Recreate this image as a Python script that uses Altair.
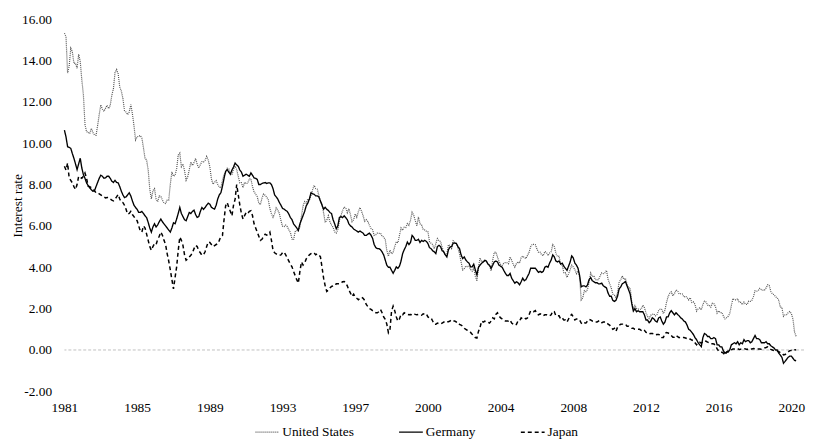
import altair as alt
import pandas as pd

# Monthly 10-year government bond yields, Sep 1981 - Apr 2020
series_names = ["United States", "Germany", "Japan"]

us = [
    15.32, 15.15, 13.39, 13.72,
    14.59, 14.43, 13.86, 13.87, 13.62, 14.30, 13.95, 13.06, 12.34, 10.91, 10.55, 10.54,
    10.46, 10.72, 10.51, 10.40, 10.38, 10.85, 11.38, 11.85, 11.65, 11.54, 11.69, 11.83,
    11.67, 11.84, 12.32, 12.63, 13.41, 13.56, 13.36, 12.72, 12.52, 12.16, 11.57, 11.50,
    11.38, 11.51, 11.86, 11.43, 10.85, 10.16, 10.31, 10.33, 10.37, 10.24, 9.78, 9.26,
    9.19, 8.70, 7.78, 7.30, 7.71, 7.80, 7.30, 7.17, 7.45, 7.43, 7.25, 7.11,
    7.08, 7.25, 7.25, 8.02, 8.61, 8.40, 8.45, 8.76, 9.42, 9.52, 8.86, 8.99,
    8.67, 8.21, 8.37, 8.72, 9.09, 8.92, 9.06, 9.26, 8.98, 8.80, 8.96, 9.11,
    9.09, 9.17, 9.36, 9.18, 8.86, 8.28, 8.02, 8.11, 8.19, 8.01, 7.87, 7.84,
    8.21, 8.47, 8.59, 8.79, 8.76, 8.48, 8.47, 8.75, 8.89, 8.72, 8.39, 8.08,
    8.09, 7.85, 8.11, 8.04, 8.07, 8.28, 8.27, 7.90, 7.65, 7.53, 7.42, 7.09,
    7.03, 7.34, 7.54, 7.48, 7.39, 7.26, 6.84, 6.59, 6.42, 6.59, 6.87, 6.77,
    6.60, 6.26, 5.98, 5.97, 6.04, 5.96, 5.81, 5.68, 5.36, 5.33, 5.72, 5.77,
    5.75, 5.97, 6.48, 6.97, 7.18, 7.10, 7.30, 7.24, 7.46, 7.74, 7.96, 7.81,
    7.78, 7.47, 7.20, 7.06, 6.63, 6.17, 6.28, 6.49, 6.20, 6.04, 5.93, 5.71,
    5.65, 5.81, 6.27, 6.51, 6.74, 6.91, 6.87, 6.64, 6.83, 6.53, 6.20, 6.30,
    6.58, 6.42, 6.69, 6.89, 6.71, 6.49, 6.22, 6.30, 6.21, 6.03, 5.88, 5.81,
    5.54, 5.57, 5.65, 5.64, 5.65, 5.50, 5.46, 5.34, 4.81, 4.53, 4.83, 4.65,
    4.72, 5.00, 5.23, 5.18, 5.54, 5.90, 5.79, 5.94, 5.92, 6.11, 6.03, 6.28,
    6.66, 6.52, 6.26, 5.99, 6.44, 6.10, 6.05, 5.83, 5.80, 5.74, 5.72, 5.24,
    5.16, 5.10, 4.89, 5.14, 5.39, 5.28, 5.24, 4.97, 4.73, 4.57, 4.65, 5.09,
    5.04, 4.91, 5.28, 5.21, 5.16, 4.93, 4.65, 4.26, 3.87, 3.94, 4.05, 4.03,
    4.05, 3.90, 3.81, 3.96, 3.57, 3.33, 3.98, 4.45, 4.27, 4.29, 4.30, 4.27,
    4.15, 4.08, 3.83, 4.35, 4.72, 4.73, 4.50, 4.28, 4.13, 4.10, 4.19, 4.23,
    4.22, 4.17, 4.50, 4.34, 4.14, 4.00, 4.18, 4.26, 4.20, 4.46, 4.54, 4.47,
    4.42, 4.57, 4.72, 4.99, 5.11, 5.11, 5.09, 4.88, 4.72, 4.73, 4.60, 4.56,
    4.76, 4.72, 4.56, 4.69, 4.75, 5.10, 5.00, 4.67, 4.52, 4.53, 4.15, 4.10,
    3.74, 3.74, 3.51, 3.68, 3.88, 4.10, 4.01, 3.89, 3.69, 3.81, 3.53, 2.42,
    2.52, 2.87, 2.82, 2.93, 3.29, 3.72, 3.56, 3.59, 3.40, 3.39, 3.40, 3.59,
    3.73, 3.69, 3.73, 3.85, 3.42, 3.20, 3.01, 2.70, 2.65, 2.54, 2.76, 3.29,
    3.39, 3.58, 3.41, 3.46, 3.17, 3.00, 3.00, 2.30, 1.98, 2.15, 2.01, 1.98,
    1.97, 1.97, 2.17, 2.05, 1.80, 1.62, 1.53, 1.68, 1.72, 1.75, 1.65, 1.72,
    1.91, 1.98, 1.96, 1.76, 1.93, 2.30, 2.58, 2.74, 2.81, 2.62, 2.72, 2.90,
    2.86, 2.71, 2.72, 2.71, 2.56, 2.60, 2.54, 2.42, 2.53, 2.30, 2.33, 2.21,
    1.88, 1.98, 2.04, 1.94, 2.20, 2.36, 2.32, 2.17, 2.17, 2.07, 2.26, 2.24,
    2.09, 1.78, 1.89, 1.81, 1.81, 1.64, 1.50, 1.56, 1.63, 1.76, 2.14, 2.49,
    2.43, 2.42, 2.48, 2.30, 2.30, 2.19, 2.32, 2.21, 2.20, 2.36, 2.35, 2.40,
    2.58, 2.86, 2.84, 2.87, 2.98, 2.91, 2.89, 2.89, 3.00, 3.15, 3.12, 2.83,
    2.71, 2.68, 2.57, 2.53, 2.40, 2.07, 2.06, 1.63, 1.70, 1.71, 1.81, 1.86,
    1.76, 1.50, 0.87, 0.66,
]

germany = [
    10.63, 10.3, 9.83, 9.8,
    9.75, 9.5, 9.27, 9.0, 8.72, 9.0, 9.27, 8.8, 8.48, 8.3, 8.08, 7.95,
    7.84, 7.75, 7.68, 7.7, 7.9, 8.1, 8.3, 8.45, 8.4, 8.3, 8.32, 8.4,
    8.4, 8.3, 8.16, 8.1, 8.2, 8.1, 8.08, 7.9, 7.68, 7.5, 7.37, 7.4,
    7.5, 7.6, 7.45, 7.21, 7.0, 6.89, 6.8, 6.65, 6.65, 6.7, 6.6, 6.49,
    6.4, 6.17, 5.9, 5.7, 5.95, 6.1, 5.95, 6.05, 6.2, 6.33, 6.2, 6.1,
    6.0, 5.9, 5.8, 5.7, 5.9, 6.15, 6.1, 6.33, 6.6, 6.89, 6.6, 6.45,
    6.3, 6.25, 6.45, 6.65, 6.6, 6.7, 6.76, 6.55, 6.41, 6.45, 6.7, 6.89,
    6.8, 6.89, 7.0, 7.1, 7.05, 6.9, 6.85, 6.81, 7.0, 7.3, 7.5, 7.6,
    7.92, 8.3, 8.64, 8.72, 8.6, 8.5, 8.7, 8.85, 9.04, 8.95, 8.88, 8.7,
    8.6, 8.4, 8.45, 8.5, 8.45, 8.4, 8.56, 8.45, 8.32, 8.3, 8.25, 8.0,
    8.0, 8.05, 8.08, 8.1, 8.05, 8.08, 8.08, 8.0, 7.8, 7.5, 7.4, 7.3,
    7.13, 7.0, 6.85, 6.81, 6.75, 6.7, 6.57, 6.4, 6.3, 6.1, 6.0, 5.9,
    5.78, 6.1, 6.3, 6.5, 6.7, 6.97, 7.1, 7.3, 7.6, 7.55, 7.53, 7.45,
    7.45, 7.4, 7.2, 7.0, 6.81, 6.9, 6.8, 6.75, 6.65, 6.6, 6.3, 6.1,
    5.86, 6.0, 6.41, 6.45, 6.4, 6.49, 6.4, 6.3, 6.1, 6.0, 5.95, 5.85,
    5.8, 5.75, 5.7, 5.75, 5.7, 5.65, 5.54, 5.54, 5.6, 5.65, 5.55, 5.4,
    5.1, 4.95, 4.9, 4.9, 4.85, 4.74, 4.6, 4.35, 4.1, 4.0, 4.0, 3.85,
    3.71, 3.85, 4.02, 3.95, 4.05, 4.3, 4.66, 4.85, 5.0, 5.22, 5.1, 5.2,
    5.54, 5.45, 5.3, 5.3, 5.35, 5.2, 5.3, 5.25, 5.3, 5.25, 5.15, 4.95,
    4.9, 4.8, 4.75, 4.66, 5.0, 5.06, 5.0, 4.8, 4.75, 4.6, 4.5, 4.85,
    4.98, 5.0, 5.17, 5.17, 5.15, 5.0, 4.9, 4.6, 4.42, 4.5, 4.35, 4.26,
    4.2, 4.02, 4.02, 4.15, 3.87, 3.63, 4.0, 4.1, 4.2, 4.25, 4.34, 4.3,
    4.15, 4.1, 3.95, 4.1, 4.26, 4.3, 4.26, 4.1, 4.05, 4.0, 3.85, 3.71,
    3.6, 3.6, 3.7, 3.47, 3.35, 3.23, 3.3, 3.25, 3.15, 3.3, 3.47, 3.35,
    3.4, 3.55, 3.7, 3.95, 3.95, 3.95, 3.95, 3.85, 3.75, 3.8, 3.75, 3.8,
    4.0, 4.05, 4.0, 4.2, 4.35, 4.6, 4.5, 4.3, 4.26, 4.3, 4.15, 4.2,
    4.05, 3.95, 3.85, 4.05, 4.25, 4.55, 4.45, 4.2, 4.1, 3.95, 3.6, 3.05,
    3.1, 3.1, 3.05, 3.15, 3.4, 3.5, 3.35, 3.3, 3.25, 3.25, 3.2, 3.2,
    3.23, 3.1, 3.05, 3.0, 2.75, 2.6, 2.6, 2.4, 2.35, 2.4, 2.6, 2.95,
    3.05, 3.2, 3.25, 3.31, 3.1, 2.91, 2.7, 2.25, 1.88, 2.0, 1.85, 1.9,
    1.85, 1.85, 1.85, 1.7, 1.45, 1.45, 1.32, 1.4, 1.56, 1.5, 1.4, 1.35,
    1.55, 1.6, 1.4, 1.25, 1.35, 1.6, 1.6, 1.8, 1.9, 1.8, 1.7, 1.8,
    1.72, 1.65, 1.55, 1.5, 1.4, 1.35, 1.2, 1.0, 0.95, 0.85, 0.75, 0.6,
    0.5, 0.35, 0.25, 0.16, 0.6, 0.8, 0.75, 0.65, 0.65, 0.55, 0.55, 0.6,
    0.55, 0.25, 0.25, 0.15, 0.15, -0.05, -0.15, -0.1, -0.1, 0.0, 0.25, 0.3,
    0.35, 0.3, 0.4, 0.25, 0.35, 0.3, 0.5, 0.4, 0.45, 0.45, 0.35, 0.4,
    0.55, 0.7, 0.55, 0.55, 0.5, 0.35, 0.35, 0.35, 0.4, 0.3, 0.3, 0.2,
    0.15, 0.1, 0.0, 0.0, -0.15, -0.25, -0.35, -0.64, -0.55, -0.45, -0.35, -0.3,
    -0.3, -0.4, -0.5, -0.52,
]

japan = [
    8.88, 8.7, 9.04, 8.32,
    8.2, 8.08, 7.9, 7.76, 8.0, 8.4, 8.35, 8.3, 8.4, 8.56, 8.3, 7.92,
    7.9, 7.85, 7.8, 7.7, 7.6, 7.6, 7.55, 7.5, 7.45, 7.4, 7.35, 7.37,
    7.37, 7.3, 7.25, 7.21, 7.3, 7.4, 7.52, 7.3, 7.15, 7.13, 7.0, 6.8,
    6.57, 6.6, 6.7, 6.55, 6.45, 6.33, 6.25, 6.0, 5.75, 5.7, 6.0, 5.9,
    5.6, 5.3, 5.0, 4.82, 5.0, 5.14, 5.1, 5.35, 5.5, 5.7, 5.55, 5.3,
    5.1, 4.66, 4.3, 3.87, 3.4, 2.95, 3.5, 4.02, 4.8, 5.46, 5.3, 5.06,
    4.6, 4.34, 4.4, 4.5, 4.58, 4.7, 4.9, 5.06, 5.0, 4.8, 4.7, 4.58,
    4.6, 4.75, 5.0, 5.22, 5.2, 5.1, 5.0, 5.05, 5.1, 5.14, 5.3, 5.5,
    5.54, 6.3, 6.97, 7.13, 6.9, 6.7, 6.49, 7.0, 7.29, 8.0, 7.5, 7.0,
    6.6, 6.33, 6.5, 6.65, 6.6, 6.7, 6.73, 6.5, 6.1, 5.9, 5.7, 5.5,
    5.3, 5.35, 5.5, 5.6, 5.55, 5.6, 5.7, 5.3, 4.82, 4.7, 4.65, 4.6,
    4.58, 4.6, 4.7, 4.74, 4.6, 4.45, 4.3, 4.15, 4.02, 3.8, 3.6, 3.4,
    3.23, 3.8, 4.26, 4.1, 4.2, 4.4, 4.5, 4.6, 4.66, 4.7, 4.7, 4.6,
    4.65, 4.6, 4.5, 4.0, 3.47, 3.1, 2.83, 2.9, 3.0, 3.07, 3.1, 3.1,
    3.2, 3.2, 3.2, 3.23, 3.3, 3.31, 3.25, 3.1, 2.9, 2.75, 2.59, 2.7,
    2.55, 2.5, 2.43, 2.5, 2.55, 2.5, 2.4, 2.2, 2.1, 2.0, 1.96, 1.9,
    1.85, 1.8, 1.8, 1.85, 1.96, 1.8, 1.6, 1.48, 1.25, 0.84, 1.0, 1.88,
    2.12, 1.9, 1.6, 1.4, 1.5, 1.72, 1.7, 1.8, 1.75, 1.72, 1.7, 1.72,
    1.7, 1.75, 1.72, 1.7, 1.72, 1.7, 1.68, 1.75, 1.72, 1.75, 1.6, 1.55,
    1.55, 1.4, 1.25, 1.24, 1.3, 1.27, 1.25, 1.3, 1.35, 1.4, 1.37, 1.37,
    1.4, 1.45, 1.4, 1.4, 1.35, 1.35, 1.24, 1.2, 1.15, 1.05, 1.0, 0.95,
    0.88, 0.85, 0.76, 0.7, 0.6, 0.58, 0.9, 1.1, 1.4, 1.35, 1.4, 1.35,
    1.35, 1.3, 1.4, 1.55, 1.5, 1.72, 1.8, 1.65, 1.55, 1.5, 1.45, 1.4,
    1.4, 1.4, 1.45, 1.3, 1.25, 1.2, 1.24, 1.4, 1.4, 1.55, 1.5, 1.55,
    1.5, 1.55, 1.7, 1.9, 1.88, 1.85, 1.9, 1.75, 1.7, 1.75, 1.72, 1.65,
    1.7, 1.7, 1.65, 1.65, 1.7, 1.88, 1.85, 1.65, 1.65, 1.65, 1.5, 1.55,
    1.45, 1.45, 1.35, 1.5, 1.65, 1.72, 1.6, 1.45, 1.5, 1.5, 1.45, 1.3,
    1.24, 1.3, 1.3, 1.4, 1.48, 1.45, 1.4, 1.4, 1.35, 1.35, 1.4, 1.3,
    1.32, 1.35, 1.35, 1.35, 1.25, 1.2, 1.1, 1.0, 1.05, 0.9, 1.1, 1.2,
    1.24, 1.25, 1.25, 1.25, 1.15, 1.15, 1.1, 1.05, 1.05, 1.0, 1.0, 1.0,
    1.0, 0.95, 1.0, 0.95, 0.85, 0.84, 0.78, 0.8, 0.8, 0.78, 0.73, 0.75,
    0.75, 0.72, 0.6, 0.6, 0.8, 0.84, 0.82, 0.78, 0.7, 0.62, 0.62, 0.7,
    0.65, 0.6, 0.62, 0.6, 0.6, 0.58, 0.55, 0.5, 0.53, 0.48, 0.45, 0.35,
    0.25, 0.37, 0.37, 0.33, 0.4, 0.45, 0.42, 0.38, 0.35, 0.3, 0.3, 0.29,
    0.22, 0.05, -0.05, -0.08, -0.11, -0.15, -0.25, -0.1, -0.05, -0.05, 0.0, 0.05,
    0.05, 0.08, 0.07, 0.02, 0.04, 0.05, 0.07, 0.05, 0.03, 0.06, 0.04, 0.05,
    0.07, 0.06, 0.04, 0.05, 0.05, 0.04, 0.06, 0.1, 0.12, 0.15, 0.1, 0.03,
    0.0, -0.03, -0.06, -0.05, -0.08, -0.13, -0.15, -0.24, -0.22, -0.17, -0.09, -0.03,
    -0.02, -0.05, 0.0, 0.01,
]

# x-axis: tick every 46 months starting at Sep 1981
tick_labels = ["1981", "1985", "1989", "1993", "1997", "2000",
               "2004", "2008", "2012", "2016", "2020"]
y_tick_labels = ["-2.00", "0.00", "2.00", "4.00", "6.00", "8.00",
                 "10.00", "12.00", "14.00", "16.00"]

assert len(us) == len(germany) == len(japan), (len(us), len(germany), len(japan))

rows = []
for name, vals in zip(series_names, [us, germany, japan]):
    for i, v in enumerate(vals):
        rows.append({"t": i, "value": v, "country": name})
df = pd.DataFrame(rows)

FONT = "Liberation Serif"
FS = 13.5
tick_step = 46
x_ticks = [i * tick_step for i in range(len(tick_labels))]
x_label_expr = "[" + ",".join("'%s'" % s for s in tick_labels) + "][round(datum.value/%d)]" % tick_step
y_label_expr = "[" + ",".join("'%s'" % s for s in y_tick_labels) + "][round((datum.value+2)/2)]"

legend = alt.Legend(
    title=None, orient="none", legendX=192, legendY=404, direction="horizontal",
    symbolType="stroke", symbolSize=576, labelFont=FONT, labelFontSize=FS,
    labelColor="black", columnPadding=42, labelOffset=2, padding=0,
)

x = alt.X("t:Q", scale=alt.Scale(domain=[0, 468], nice=False, zero=False),
          axis=alt.Axis(values=x_ticks, labelExpr=x_label_expr, title=None, grid=False,
                        domain=False, ticks=False, tickSize=0, labelPadding=9,
                        labelFlush=False, labelOverlap=False,
                        labelFont=FONT, labelFontSize=FS, labelColor="black"))
y = alt.Y("value:Q", scale=alt.Scale(domain=[-2, 16], nice=False),
          axis=alt.Axis(values=list(range(-2, 17, 2)), labelExpr=y_label_expr,
                        title="Interest rate", grid=False, domain=False, ticks=False,
                        tickSize=0, labelPadding=13, labelFlush=False, labelOverlap=False,
                        labelFont=FONT, labelFontSize=FS,
                        labelColor="black", titleFont=FONT, titleFontSize=FS,
                        titleFontWeight="normal", titleColor="black",
                        titleX=-47, titleY=188, titleAngle=-90, titleAlign="center",
                        titleBaseline="middle"))

zero = alt.Chart(pd.DataFrame({"v": [0]})).mark_rule(
    color="#bfbfbf", strokeDash=[3, 2], strokeWidth=1
).encode(y=alt.Y("v:Q"))

lines = alt.Chart(df).mark_line(interpolate="linear").encode(
    x=x, y=y,
    color=alt.Color("country:N", scale=alt.Scale(domain=series_names,
                    range=["#555555", "#000000", "#000000"]), legend=legend),
    strokeDash=alt.StrokeDash("country:N", scale=alt.Scale(domain=series_names,
                    range=[[1, 1], [1, 0], [4, 3]]), legend=legend),
    strokeWidth=alt.StrokeWidth("country:N", scale=alt.Scale(domain=series_names,
                    range=[1.2, 1.5, 1.25]), legend=legend),
    order=alt.Order("t:Q"),
)

chart = alt.layer(zero, lines).properties(
    width=747, height=376,
    autosize=alt.AutoSizeParams(type="none"),
    padding={"left": 57, "top": 9, "right": 2, "bottom": 52},
).configure(background="white", font=FONT).configure_view(stroke=None).configure_axis(
    labelFont=FONT, titleFont=FONT
).configure_legend(labelFont=FONT)

chart.save("out.html", embed_options={"renderer": "svg", "actions": False})
